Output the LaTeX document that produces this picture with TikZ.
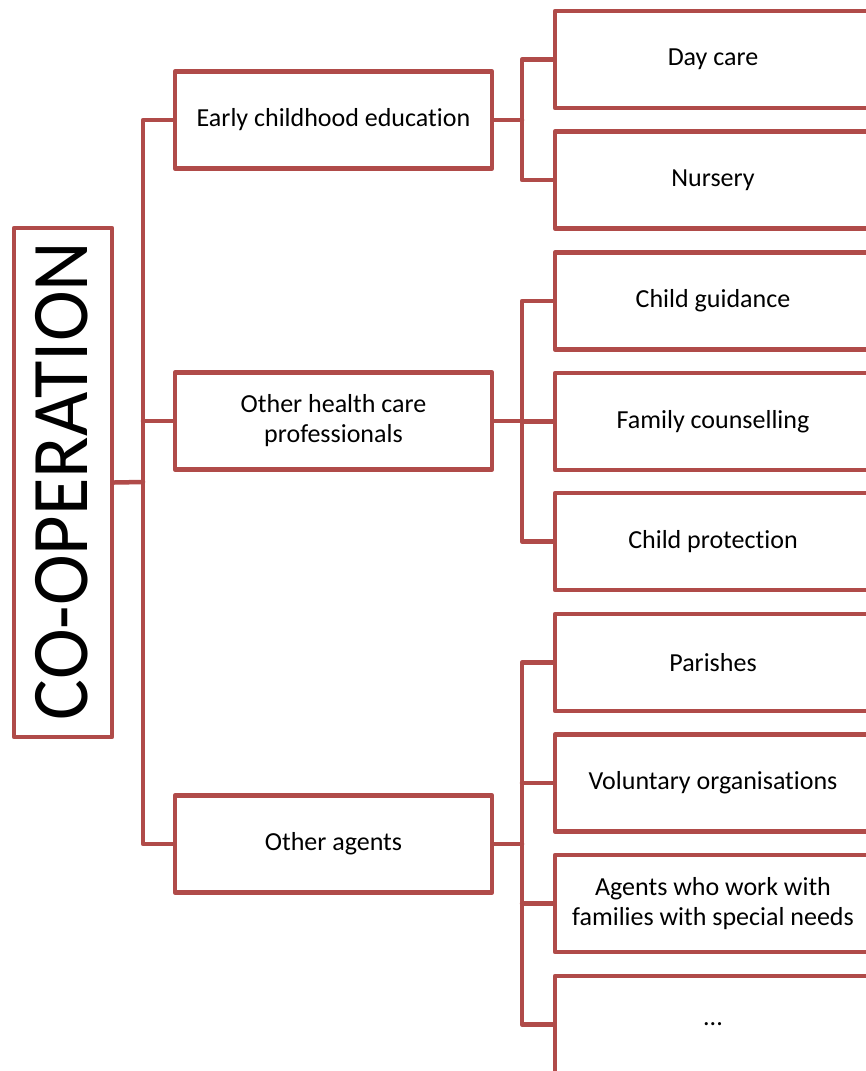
\documentclass[tikz,border=0pt]{standalone}
\usepackage{fontspec}
\setmainfont{Carlito}[Ligatures=NoCommon]
\definecolor{boxred}{RGB}{176,75,73}
\tikzset{
  box/.style={draw=boxred, line width=4.5pt, rectangle, align=center, inner sep=0pt,
    font=\fontsize{26}{30}\selectfont, text=black, line join=round},
  midbox/.style={box, minimum width=317pt, minimum height=97pt},
  leafbox/.style={box, minimum width=316pt, minimum height=97pt},
  link/.style={draw=boxred, line width=4.5pt, line join=round, line cap=round}
}
\begin{document}
\begin{tikzpicture}[x=1pt, y=-1pt]
\useasboundingbox (0,0) rectangle (866,1071);
\clip (0,0) rectangle (866,1071);
\node[box, minimum width=98pt, minimum height=509pt] (root) at (63,482.5) {};
\node[rotate=90, text=black, inner sep=0pt] (roottext) at (62,481)
  {\scalebox{1}[1.05]{\fontsize{76.5}{80}\selectfont CO-OPERATION}};
\node[midbox] (early) at (333.5,120) {Early childhood education};
\node[midbox] (health) at (333.5,421) {Other health care\\professionals};
\node[midbox] (agents) at (333.5,844) {Other agents};
\node[leafbox] (day) at (713,59.5) {Day care};
\node[leafbox] (nursery) at (713,180) {Nursery};
\node[leafbox] (guid) at (713,301) {Child guidance};
\node[leafbox] (family) at (713,421.5) {Family counselling};
\node[leafbox] (prot) at (713,541.5) {Child protection};
\node[leafbox] (par) at (713,662.5) {Parishes};
\node[leafbox] (vol) at (713,783) {Voluntary organisations};
\node[leafbox] (spec) at (713,903.5) {Agents who work with\\families with special needs};
\node[leafbox] (etc) at (713,1024.5) {...};
\coordinate (t) at (143,482);
\coordinate (j1) at (522,120);
\coordinate (j2) at (522,421);
\coordinate (j3) at (522,844);
\draw[link] (root.east) -- (t);
\draw[link] (early.west) -| (t);
\draw[link] (agents.west) -| (t);
\draw[link] (health.west) -- (health.west -| t);
\draw[link] (early.east) -- (j1);
\draw[link] (day.west) -| (j1);
\draw[link] (nursery.west) -| (j1);
\draw[link] (health.east) -- (j2);
\draw[link] (guid.west) -| (j2);
\draw[link] (prot.west) -| (j2);
\draw[link] (family.west) -- (family.west -| j2);
\draw[link] (agents.east) -- (j3);
\draw[link] (par.west) -| (j3);
\draw[link] (etc.west) -| (j3);
\draw[link] (vol.west) -- (vol.west -| j3);
\draw[link] (spec.west) -- (spec.west -| j3);
\end{tikzpicture}
\end{document}
